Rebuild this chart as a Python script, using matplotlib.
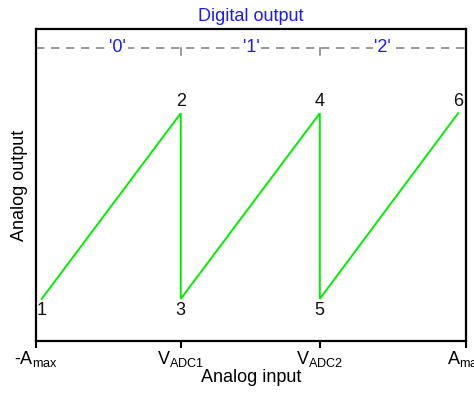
import matplotlib
matplotlib.use("Agg")
import matplotlib.pyplot as plt

plt.rcParams['font.family'] = ['Liberation Sans', 'DejaVu Sans']
plt.rcParams['mathtext.fontset'] = 'custom'
plt.rcParams['mathtext.rm'] = 'Liberation Sans'
plt.rcParams['mathtext.it'] = 'Liberation Sans'

# data
saw_x = [0.04, 1.01, 1.01, 1.98, 1.98, 2.945]
saw_y = [0.135, 0.73, 0.135, 0.73, 0.135, 0.73]
point_labels = ['1', '2', '3', '4', '5', '6']
tick_pos = [0, 1.01, 1.98, 3]
tick_labels = [r'-$\mathregular{A_{max}}$', r'$\mathregular{V_{ADC1}}$',
               r'$\mathregular{V_{ADC2}}$', r'$\mathregular{A_{max}}$']
digital_labels = ["'0'", "'1'", "'2'"]
digital_pos = [0.57, 1.5, 2.42]
digital_level = 0.94
bracket_x = [1.01, 1.98]

FS = 13

fig = plt.figure(figsize=(4.74, 3.94), dpi=100)
ax = fig.add_axes([36/474, 53/394, 430/474, 312/394])
ax.set_xlim(0, 3)
ax.set_ylim(0, 1)

ax.plot(saw_x, saw_y, color='#00ee00', lw=1.4, solid_joinstyle='miter')

for x, y, t in zip(saw_x, saw_y, point_labels):
    if y > 0.5:
        ax.annotate(t, (x, y), xytext=(0, 2), textcoords='offset points',
                    ha='center', va='bottom', fontsize=FS, color='#111111')
    else:
        ax.annotate(t, (x, y), xytext=(0, -2), textcoords='offset points',
                    ha='center', va='top', fontsize=FS, color='#111111')

ax.axhline(digital_level, color='#888888', lw=1.2, ls=(0, (5, 4)))
for bx in bracket_x:
    ax.plot([bx, bx], [digital_level, digital_level - 0.022], color='#888888', lw=1.2)
for p, t in zip(digital_pos, digital_labels):
    ax.text(p, digital_level, t, ha='center', va='center', fontsize=FS, color='#1a1aff',
            bbox=dict(facecolor='white', edgecolor='none', pad=1.0))

for s in ax.spines.values():
    s.set_linewidth(1.6)
    s.set_color('black')

ax.set_xticks(tick_pos)
ax.set_xticklabels(tick_labels, fontsize=FS)
ax.set_yticks([])
ax.tick_params(axis='x', length=5, width=1.5, direction='out', pad=1)
ax.set_xlabel('Analog input', fontsize=FS, labelpad=0)
ax.set_ylabel('Analog output', fontsize=FS, labelpad=6)
ax.set_title('Digital output', fontsize=FS, color='#1a1aff', pad=6)

fig.savefig('out.png', dpi=100)
